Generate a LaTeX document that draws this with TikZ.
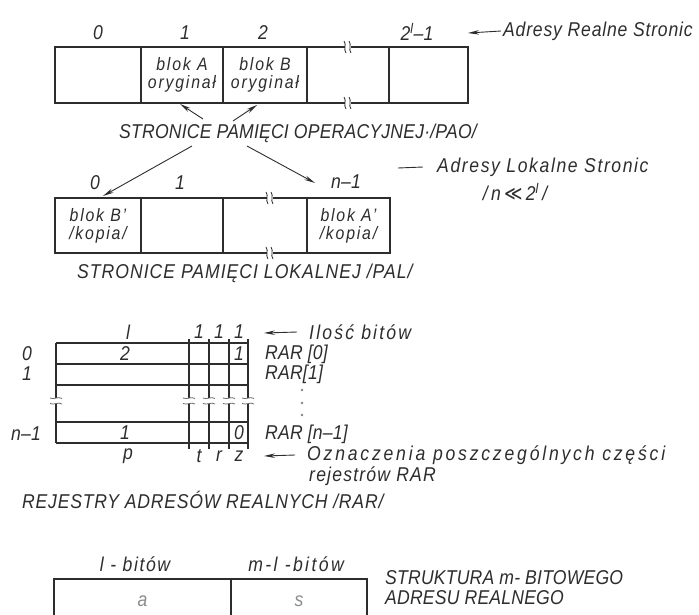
\documentclass[tikz,border=0pt]{standalone}
\usepackage{fontspec}
\setmainfont{Liberation Sans}[FakeStretch=0.88, LetterSpace=1]
\newfontfamily\symfont{DejaVu Sans}[FakeStretch=0.88]
\newcommand\lsp[1]{\addfontfeature{LetterSpace=#1}}
\usetikzlibrary{arrows.meta,calc}
\definecolor{ink}{RGB}{45,45,45}
\begin{document}
\begin{tikzpicture}[x=1pt,y=-1pt,
  lbl/.style={font=\fontsize{20}{22}\selectfont\itshape, text=ink, inner sep=0pt},
  cell/.style={draw=ink, line width=1.1pt, inner sep=0pt, align=center, text=ink,
    font=\fontsize{18}{18}\selectfont\itshape\lsp{10}},
  arr/.style={draw=ink, line width=0.9pt, -{Stealth[length=11pt,width=4.5pt]}},
  gridline/.style={draw=ink, line width=1.1pt},
  hbrk/.pic={\fill[white] (-3,-1.6) rectangle (3,1.6);
    \draw[ink, line width=0.8pt] (-4,-6) .. controls (-1,-2) and (-5,2) .. (-2,6);
    \draw[ink, line width=0.8pt] (1,-6) .. controls (4,-2) and (0,2) .. (3,6);},
  vbrk/.pic={\fill[white] (-1.6,-3) rectangle (1.6,3);
    \draw[ink!70, line width=0.8pt] (-6,-3) .. controls (-2,-1) and (2,-5) .. (6,-2.5);
    \draw[ink!70, line width=0.8pt] (-6,2.5) .. controls (-2,4.5) and (2,0.5) .. (6,3);}
]
\useasboundingbox (0,0) rectangle (699,614);

% ---------- PAO ----------
\node[lbl] (n0) at (98,33) {0};
\node[lbl] (n1) at (185,33) {1};
\node[lbl] (n2) at (263,33) {2};
\node[lbl] (nl) at (417,32) {2\textsuperscript{l}--1};
\node[lbl, font=\fontsize{20}{22}\selectfont\itshape\lsp{4}, anchor=west] (arl) at (503,31) {Adresy Realne Stronic};
\coordinate (arlTip) at (468,33);
\draw[arr] ([xshift=-2pt]arl.west) -- (arlTip);

\node[cell, minimum width=86pt, minimum height=56pt] (t0) at (98,75) {};
\node[cell, minimum width=82pt, minimum height=56pt] (t1) at (182,75) {blok A\\oryginał};
\node[cell, minimum width=84pt, minimum height=56pt] (t2) at (265,75) {blok B\\oryginał};
\node[cell, minimum width=82pt, minimum height=56pt] (t3) at (348,75) {};
\node[cell, minimum width=79pt, minimum height=56pt] (t4) at (428.5,75) {};
\pic at (348,47) {hbrk};
\pic at (348,103) {hbrk};

\node[lbl] (pao) at (298,133) {STRONICE PAMIĘCI OPERACYJNEJ·/PAO/};
\coordinate (aS1) at (203,119);
\coordinate (aS2) at (233,121);
\coordinate (aE1) at (180,104);
\coordinate (aE2) at (257,105);
\draw[arr] (aS1) -- (aE1);
\draw[arr] (aS2) -- (aE2);
\coordinate (bS1) at (192,146);
\coordinate (bS2) at (247,146);
\coordinate (bE1) at (103,196);
\coordinate (bE2) at (315,183);
\draw[arr] (bS1) -- (bE1);
\draw[arr] (bS2) -- (bE2);

% ---------- PAL ----------
\node[lbl] (m0) at (95,183) {0};
\node[lbl] (m1) at (180,183) {1};
\node[lbl] (mn) at (346,182) {n--1};
\node[lbl, font=\fontsize{20}{22}\selectfont\itshape\lsp{8}, anchor=west] (als) at (437,167) {Adresy Lokalne Stronic};
\coordinate (alsL) at (398,168);
\draw[draw=ink, line width=0.9pt] (alsL) -- ([xshift=-14pt]als.west);
\node[lbl] (nll) at (515,192) {/\,n\,{\symfont ≪}\,2\textsuperscript{l}\,/};

\node[cell, minimum width=86pt, minimum height=55pt] (p0) at (98,225.5) {blok B'\\/kopia/};
\node[cell, minimum width=82pt, minimum height=55pt] (p1) at (182,225.5) {};
\node[cell, minimum width=84pt, minimum height=55pt] (p2) at (265,225.5) {};
\node[cell, minimum width=83pt, minimum height=55pt] (p3) at (348.5,225.5) {blok A'\\/kopia/};
\pic at (270,198) {hbrk};
\pic at (270,253) {hbrk};
\node[lbl, font=\fontsize{20}{22}\selectfont\itshape\lsp{5}, anchor=west] (pal) at (77,273) {STRONICE PAMIĘCI LOKALNEJ /PAL/};

% ---------- RAR ----------
\foreach \yy in {343,364,385,422,443} \draw[gridline] (56,\yy) -- (248,\yy);
\draw[gridline] (56,343) -- (56,443);
\foreach \xx in {189,209,229,248} \draw[gridline] (\xx,339) -- (\xx,449);
\foreach \xx in {56,189,209,229,248} \pic at (\xx,401) {vbrk};

\node[lbl] (rl) at (128,332) {l};
\node[lbl] (r1a) at (199,332) {1};
\node[lbl] (r1b) at (219,332) {1};
\node[lbl] (r1c) at (239,332) {1};
\node[lbl, font=\fontsize{20}{22}\selectfont\itshape\lsp{11}, anchor=west] (ilosc) at (309,332) {Ilość bitów};
\coordinate (ilTip) at (264,333);
\draw[arr] ([xshift=-12pt]ilosc.west) -- (ilTip);

\node[lbl] (row0) at (27,354) {0};
\node[lbl] (row1) at (27,374) {1};
\node[lbl] (rown) at (26,434) {n--1};
\node[lbl] (c02) at (125,354) {2};
\node[lbl] (c0z) at (239,354) {1};
\node[lbl] (cn1) at (125,433) {1};
\node[lbl] (cnz) at (239,433) {0};

\node[lbl, anchor=west] (rar0) at (265,354) {RAR [0]};
\node[lbl, anchor=west] (rar1) at (265,374) {RAR[1]};
\node[lbl, anchor=west] (rarn) at (265,434) {RAR [n--1]};
\foreach \yy in {390,403,415} \fill[ink!60] (302,\yy) circle (1.3pt);

\node[lbl] (lp) at (128,456) {p};
\node[lbl] (lt) at (199,456) {t};
\node[lbl] (lr) at (219,456) {r};
\node[lbl] (lz) at (239,456) {z};
\node[lbl, font=\fontsize{20}{22}\selectfont\itshape\lsp{14}, anchor=west] (ozn) at (307,455) {Oznaczenia poszczególnych części};
\coordinate (ozTip) at (264,456);
\draw[arr] ([xshift=-12pt]ozn.west) -- (ozTip);
\node[lbl, font=\fontsize{20}{22}\selectfont\itshape\lsp{6}, anchor=west] (rej) at (309,476) {rejestrów RAR};

\node[lbl, font=\fontsize{20}{22}\selectfont\itshape\lsp{4}, anchor=west] (rejtit) at (22,500) {REJESTRY ADRESÓW REALNYCH /RAR/};

% ---------- address structure ----------
\node[lbl, font=\fontsize{20}{22}\selectfont\itshape\lsp{8}] (lbit) at (135,564) {l - bitów};
\node[lbl, font=\fontsize{20}{22}\selectfont\itshape\lsp{12}] (mbit) at (296,564) {m-l -bitów};
\node[cell, minimum width=177pt, minimum height=44pt, text=ink!55,
  font=\fontsize{20}{22}\selectfont\itshape] (ca) at (142.5,601) {a};
\node[cell, minimum width=136pt, minimum height=44pt, text=ink!55,
  font=\fontsize{20}{22}\selectfont\itshape] (cs) at (299,601) {s};
\node[lbl, anchor=west] (str1) at (385,578) {STRUKTURA m- BITOWEGO};
\node[lbl, anchor=west] (str2) at (385,598) {ADRESU REALNEGO};
\end{tikzpicture}
\end{document}
